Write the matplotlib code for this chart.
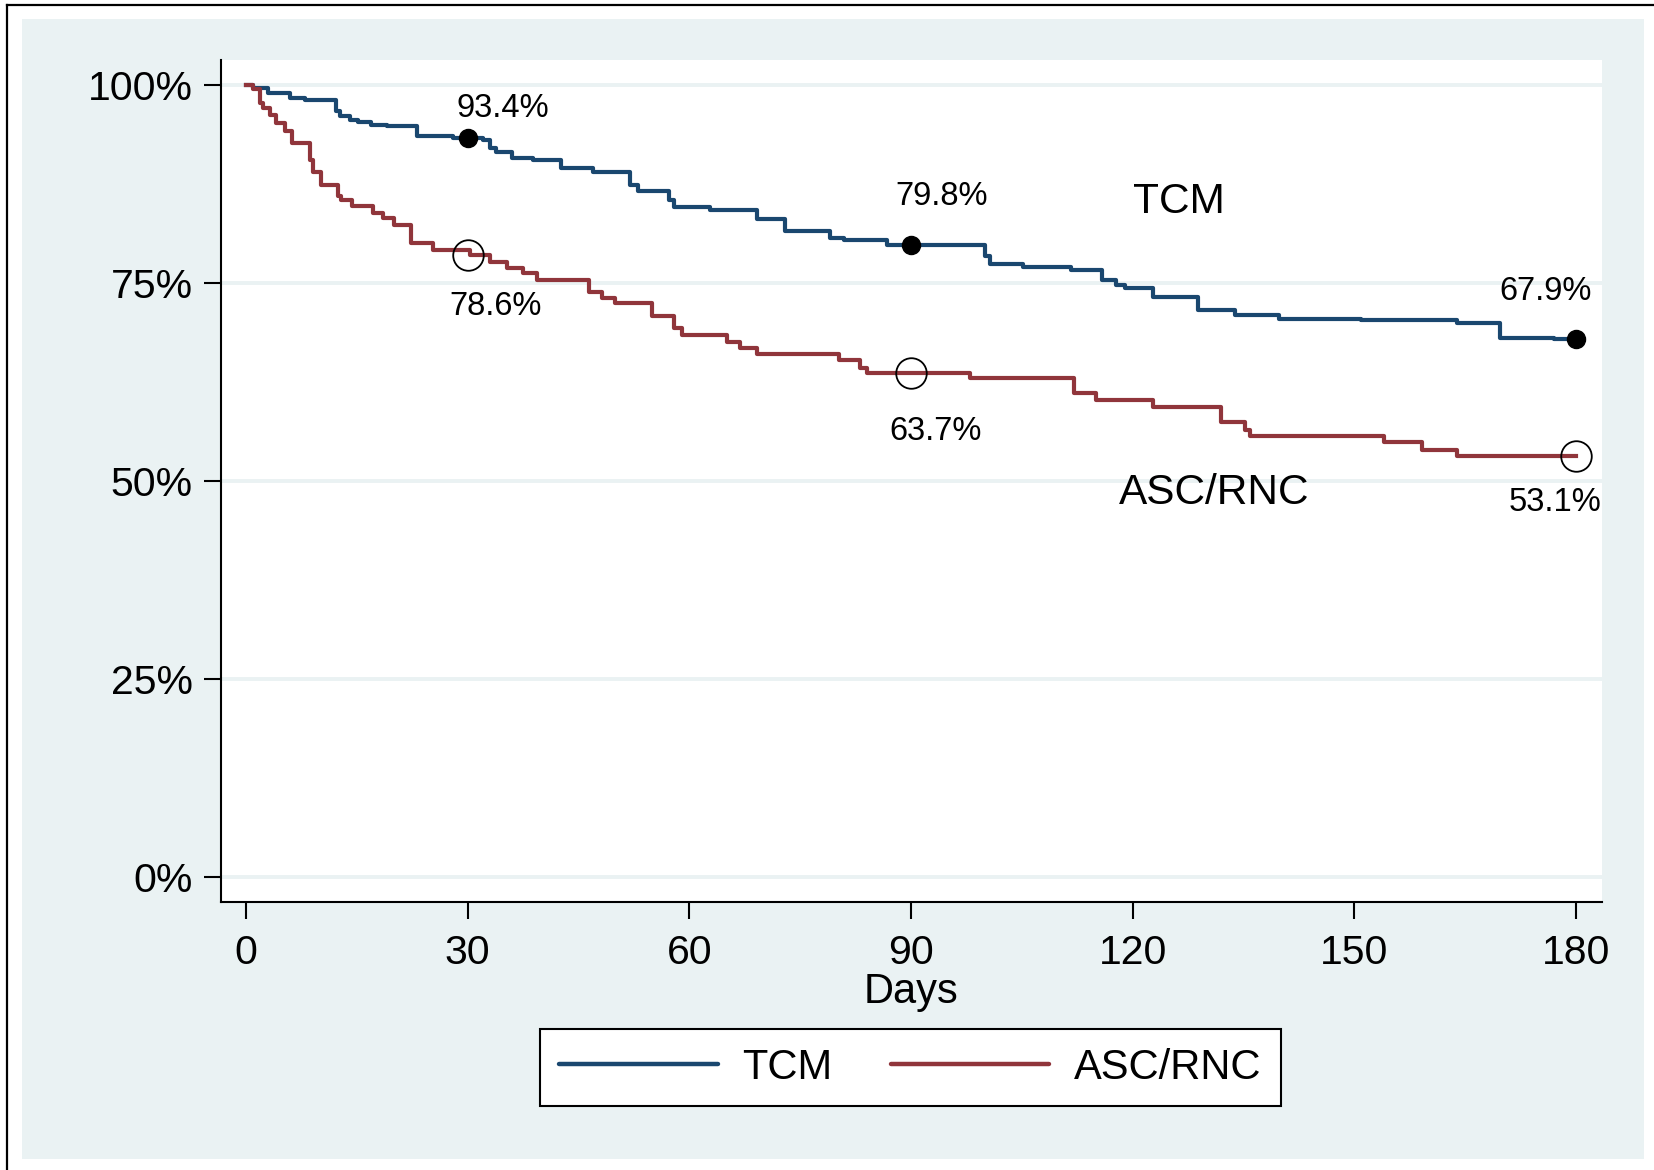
import matplotlib
matplotlib.use("Agg")
import matplotlib.pyplot as plt
from matplotlib.patches import Rectangle
from matplotlib.lines import Line2D

plt.rcParams['font.family'] = ['Liberation Sans', 'DejaVu Sans']

# Kaplan-Meier steps: day at which survival drops to the given percent
tcm_days = [0, 1, 3, 6, 8, 12.2, 12.7, 14.1, 15.2, 17, 19.1, 23.1, 28, 32.1, 33, 33.9,
            36, 38.9, 42.7, 47, 52, 53.1, 57.2, 57.9, 62.8, 69.1, 73, 79, 80.9, 86.7,
            100, 100.7, 105.2, 111.7, 115.8, 117.8, 119, 122.8, 128.9, 133.9, 139.8,
            150.9, 163.9, 169.7, 177, 180]
tcm_surv = [100, 99.7, 99.0, 98.4, 98.1, 96.7, 96.1, 95.65, 95.4, 95.0, 94.9, 93.6, 93.4,
            93.1, 92.1, 91.6, 90.8, 90.6, 89.5, 89.1, 87.4, 86.7, 85.5, 84.6, 84.3, 83.1,
            81.6, 80.7, 80.4, 79.8, 78.4, 77.4, 77.0, 76.7, 75.4, 74.8, 74.4, 73.3, 71.6,
            71.0, 70.45, 70.3, 69.95, 68.05, 67.9, 67.9]

asc_days = [0, 1.0, 1.9, 2.3, 3.3, 4.1, 5.3, 6.2, 8.7, 9.1, 10.2, 12.5, 12.9, 14.3, 17.2,
            18.6, 20.1, 22.4, 25.3, 30.3, 33.0, 35.3, 37.5, 39.4, 46.4, 48.2, 50.0, 54.9,
            57.9, 59.0, 65.1, 66.9, 69.1, 80.2, 83.1, 84.0, 98.0, 112.0, 115.1, 122.8,
            132.0, 135.2, 135.9, 154.0, 159.1, 163.9, 180]
asc_surv = [100, 99.5, 97.8, 97.1, 96.3, 95.2, 94.2, 92.7, 90.6, 89.1, 87.4, 86.0, 85.5,
            84.7, 83.9, 83.2, 82.4, 80.1, 79.2, 78.6, 77.7, 76.9, 76.3, 75.4, 73.9, 73.1,
            72.5, 70.8, 69.3, 68.5, 67.6, 66.8, 66.0, 65.3, 64.3, 63.7, 63.0, 61.1, 60.2,
            59.4, 57.5, 56.5, 55.7, 54.9, 53.9, 53.1, 53.1]

milestone_days = [30, 90, 180]
tcm_milestone = [93.4, 79.8, 67.9]
asc_milestone = [78.6, 63.7, 53.1]

x_ticks = [0, 30, 60, 90, 120, 150, 180]
y_ticks = [0, 25, 50, 75, 100]
y_labels = ['0%', '25%', '50%', '75%', '100%']

blue = '#1a476f'
red = '#90353b'
bg = '#eaf2f3'

fig = plt.figure(figsize=(16.54, 11.70), dpi=100)
W, H = 1654, 1170

# stata-like outer background and frame
fig.patches.append(Rectangle((22 / W, 1 - 1159 / H), (1644 - 22) / W, (1159 - 19) / H,
                             transform=fig.transFigure, facecolor=bg, edgecolor='none', zorder=-5))
fig.add_artist(Line2D([7 / W, 7 / W], [0, 1 - 5 / H], transform=fig.transFigure, color='black', lw=1.6))
fig.add_artist(Line2D([7 / W, 1], [1 - 5 / H, 1 - 5 / H], transform=fig.transFigure, color='black', lw=1.6))

ax = fig.add_axes([220.7 / W, 1 - 902 / H, (1602 - 220.7) / W, (902 - 60) / H])
ax.set_facecolor('white')
ax.set_zorder(2)

for y in y_ticks:
    ax.axhline(y, color=bg, lw=2.8, zorder=1)

ax.step(tcm_days, tcm_surv, where='post', color=blue, lw=3, zorder=3, label='TCM')
ax.step(asc_days, asc_surv, where='post', color=red, lw=3, zorder=3, label='ASC/RNC')

ax.plot(milestone_days, tcm_milestone, 'o', color='black', ms=13, zorder=4)
ax.plot(milestone_days, asc_milestone, 'o', mfc='none', mec='black', mew=1.3, ms=22, zorder=4)

# value labels
tcm_label_pos = [(34.8, 97.1), (94.1, 86.0), (175.9, 74.0)]
asc_label_pos = [(33.8, 72.1), (93.3, 56.3), (177.1, 47.3)]
for v, (lx, ly) in zip(tcm_milestone, tcm_label_pos):
    ax.text(lx, ly, f'{v:.1f}%', fontsize=23.5, ha='center', va='center')
for v, (lx, ly) in zip(asc_milestone, asc_label_pos):
    ax.text(lx, ly, f'{v:.1f}%', fontsize=23.5, ha='center', va='center')

ax.text(126.3, 85.3, 'TCM', fontsize=30.5, ha='center', va='center')
ax.text(131.0, 48.5, 'ASC/RNC', fontsize=30.5, ha='center', va='center')

ax.set_xlim(-3.4, 183.5)
ax.set_ylim(-3.2, 103.2)
ax.set_xticks(x_ticks)
ax.set_yticks(y_ticks)
ax.set_yticklabels(y_labels)
ax.tick_params(axis='both', direction='out', length=12, width=1.5, labelsize=29.5, pad=8)
ax.tick_params(axis='x', pad=11)
for s in ['top', 'right']:
    ax.spines[s].set_visible(False)
for s in ['left', 'bottom']:
    ax.spines[s].set_linewidth(1.5)
ax.set_xlabel('Days', fontsize=30, labelpad=0)

leg = fig.legend(handles=[Line2D([], [], color=blue, lw=3.2, solid_capstyle='round'),
                          Line2D([], [], color=red, lw=3.2, solid_capstyle='round')],
                 labels=['TCM', 'ASC/RNC'], loc='center', bbox_to_anchor=(0.5505, 0.0876),
                 ncol=2, fontsize=30, frameon=True, fancybox=False, framealpha=1,
                 handlelength=3.8, handletextpad=0.6, columnspacing=1.4, borderpad=0.45)
leg.get_frame().set_edgecolor('black')
leg.get_frame().set_facecolor('white')
leg.get_frame().set_linewidth(1.5)

fig.savefig('out.png', dpi=100)
